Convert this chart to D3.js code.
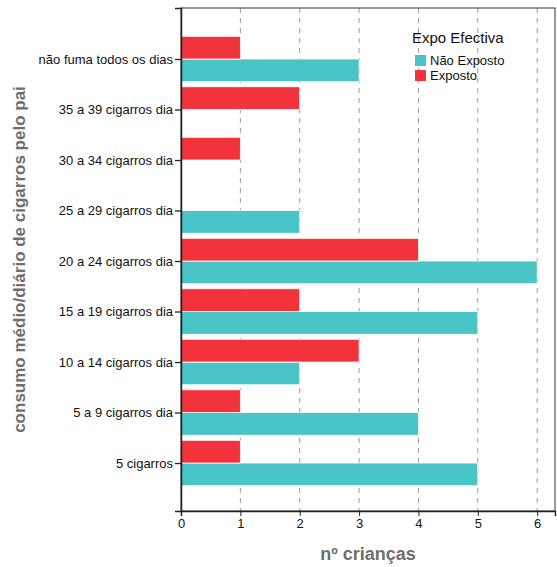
<!DOCTYPE html>
<html>
<head>
<meta charset="utf-8">
<script src="https://cdn.jsdelivr.net/npm/d3@7"></script>
<style>
body{margin:0;background:#fff;}
text{font-family:"Liberation Sans",Arial,Helvetica,sans-serif;}
</style>
</head>
<body>
<svg id="chart" width="557" height="567"></svg>
<script>
const categories = ["5 cigarros","5 a 9 cigarros dia","10 a 14 cigarros dia","15 a 19 cigarros dia","20 a 24 cigarros dia","25 a 29 cigarros dia","30 a 34 cigarros dia","35 a 39 cigarros dia","não fuma todos os dias"];
const naoExposto = [5,4,2,5,6,2,null,null,3];
const exposto    = [1,1,3,2,4,null,1,2,1];
const seriesNames = ["Não Exposto","Exposto"];
const seriesColors = ["#49C4C7","#F2333B"];
const xTicks = [0,1,2,3,4,5,6];

const svg = d3.select("#chart");
const L = 181, R = 555, T = 8, B = 511;

const x = d3.scaleLinear().domain([0,6.3]).range([L,R]);
const y = d3.scaleLinear().domain([-0.95, categories.length - 1 + 1.01]).range([B,T]);
const step = y(0) - y(1);
const barH = step * 0.45;

// grid
svg.append("g").selectAll("line").data(xTicks.filter(d=>d>0)).join("line")
  .attr("x1",d=>x(d)).attr("x2",d=>x(d)).attr("y1",T).attr("y2",B)
  .attr("stroke","#9a9a9a").attr("stroke-width",1).attr("stroke-dasharray","5,5");

// bars
const data = [];
categories.forEach((c,i)=>{
  if (naoExposto[i]!=null) data.push({i, v:naoExposto[i], s:0});
  if (exposto[i]!=null) data.push({i, v:exposto[i], s:1});
});
svg.append("g").selectAll("rect").data(data).join("rect")
  .attr("x", x(0))
  .attr("width", d=>x(d.v)-x(0))
  .attr("y", d=> d.s===1 ? y(d.i)-barH : y(d.i))
  .attr("height", barH)
  .attr("fill", d=>seriesColors[d.s])
  .attr("stroke","#ffffff").attr("stroke-width",0.8);

// frame
svg.append("rect").attr("x",L).attr("y",T).attr("width",R-L).attr("height",B-T)
  .attr("fill","none").attr("stroke","#333").attr("stroke-width",1);

// axes
const xAxis = d3.axisBottom(x).tickValues(xTicks).tickSize(5).tickPadding(3).tickFormat(d3.format("d"));
const gx = svg.append("g").attr("transform",`translate(0,${B})`).call(xAxis);
gx.select(".domain").attr("stroke","#222").attr("stroke-width",1.5);
gx.selectAll(".tick line").attr("stroke","#222");
gx.selectAll("text").attr("font-size",13).attr("fill","#111").style("font-family","'Liberation Sans',Arial,sans-serif");

const yAxis = d3.axisLeft(y).tickValues(d3.range(categories.length)).tickFormat(i=>categories[i]).tickSize(6).tickPadding(2);
const gy = svg.append("g").attr("transform",`translate(${L},0)`).call(yAxis);
gy.select(".domain").attr("stroke","#222").attr("stroke-width",1.5);
gy.selectAll(".tick line").attr("stroke","#222").attr("stroke-width",1.3);
gy.selectAll("text").attr("font-size",13).attr("fill","#111").style("font-family","'Liberation Sans',Arial,sans-serif");

// titles
svg.append("text").attr("x",368).attr("y",560).attr("text-anchor","middle")
  .attr("font-size",18).attr("font-weight","bold").attr("fill","#6e6e6e").text("nº crianças");
svg.append("text").attr("transform",`translate(25,${(T+B)/2}) rotate(-90)`).attr("text-anchor","middle")
  .attr("font-size",17).attr("font-weight","bold").attr("fill","#6e6e6e").text("consumo médio/diário de cigarros pelo pai");

// legend
const lg = svg.append("g");
lg.append("text").attr("x",412).attr("y",43).attr("font-size",15).attr("fill","#111").text("Expo Efectiva");
seriesNames.forEach((n,k)=>{
  lg.append("rect").attr("x",415).attr("y",55+k*15).attr("width",11).attr("height",11).attr("fill",seriesColors[k]);
  lg.append("text").attr("x",430).attr("y",65+k*15).attr("font-size",13).attr("fill","#111").text(n);
});
</script>
</body>
</html>
